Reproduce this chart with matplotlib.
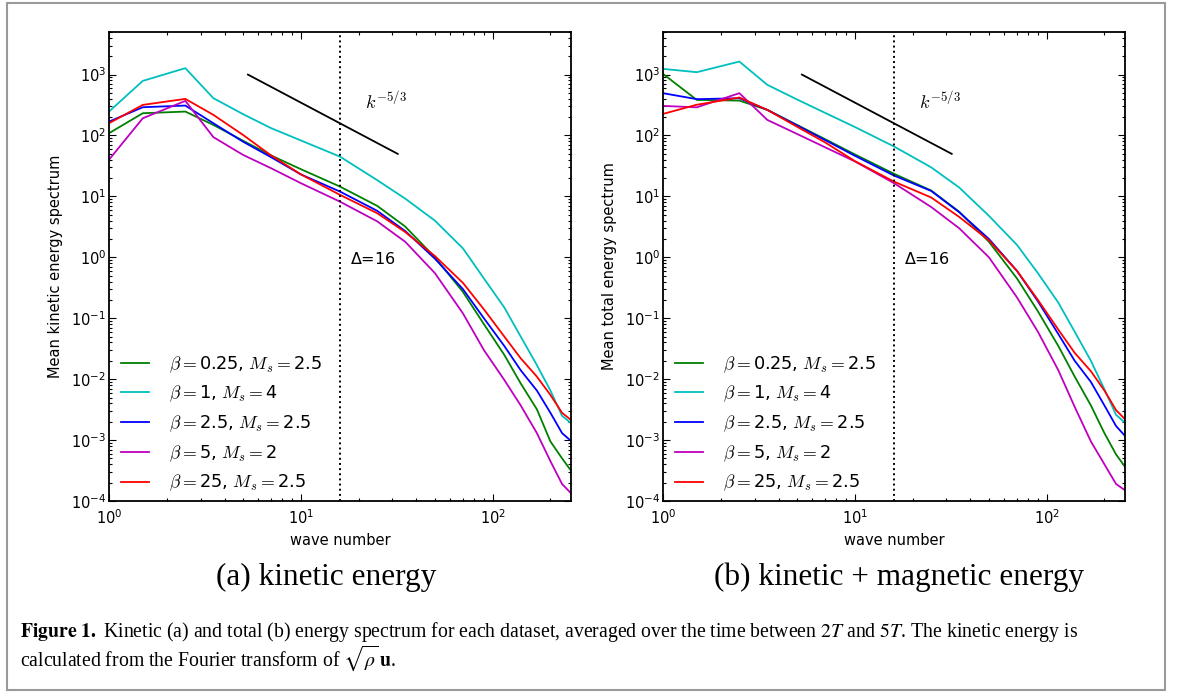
import numpy as np
import matplotlib
matplotlib.use('Agg')
import matplotlib.pyplot as plt
from matplotlib.font_manager import FontProperties
from matplotlib.patches import Rectangle

plt.rcParams['axes.unicode_minus'] = False
plt.rcParams['font.family'] = 'DejaVu Sans'

# ---------------- data ----------------
wave_k = [1, 1.5, 2.5, 3.5, 5, 7, 10, 16, 25, 35, 50, 70, 90, 115, 140, 170, 200, 230, 256]

# panel (a): kinetic energy spectrum
kin_beta025 = [109, 232, 247, 149, 82, 47, 28, 14.5, 7.0, 3.2, 1.0, 0.27, 0.08, 0.025, 0.0085, 0.0032, 0.00095, 0.0005, 0.000315]
kin_beta1 = [247, 788, 1274, 410, 224, 132, 83, 45, 18.5, 9.2, 4.0, 1.4, 0.45, 0.15, 0.05, 0.017, 0.0065, 0.0025, 0.0019]
kin_beta25 = [169, 291, 310, 159, 79, 44, 23, 12, 5.8, 2.7, 0.95, 0.3, 0.1, 0.035, 0.014, 0.0065, 0.0028, 0.0013, 0.00097]
kin_beta5 = [40, 192, 370, 94, 48, 29, 16.5, 8.2, 3.9, 1.8, 0.55, 0.12, 0.03, 0.0097, 0.0037, 0.0013, 0.00045, 0.00019, 0.000134]
kin_beta250 = [159, 318, 399, 218, 102, 47, 23, 10.6, 5.3, 2.6, 1.05, 0.38, 0.14, 0.05, 0.022, 0.011, 0.0055, 0.0028, 0.00214]

# panel (b): total (kinetic + magnetic) energy spectrum
tot_beta025 = [1027, 384, 374, 263, 149, 87, 49, 23.5, 12.5, 5.6, 1.8, 0.45, 0.13, 0.035, 0.011, 0.0037, 0.0013, 0.00058, 0.000366]
tot_beta1 = [1241, 1094, 1636, 678, 390, 235, 138, 66, 30, 14, 4.8, 1.6, 0.55, 0.18, 0.06, 0.02, 0.0068, 0.0026, 0.00193]
tot_beta25 = [495, 395, 409, 263, 146, 84, 46.5, 22, 12.3, 5.5, 2.0, 0.6, 0.19, 0.055, 0.02, 0.009, 0.0037, 0.0017, 0.00117]
tot_beta5 = [306, 290, 495, 180, 106, 64, 37.6, 16.5, 6.7, 3.0, 1.0, 0.22, 0.06, 0.014, 0.0035, 0.00095, 0.0004, 0.00019, 0.00015]
tot_beta250 = [226, 320, 420, 263, 139, 77, 38, 17.5, 9.6, 4.6, 1.9, 0.6, 0.2, 0.065, 0.027, 0.0135, 0.0065, 0.0031, 0.0022]

beta_labels = ['0.25', '1', '2.5', '5', '25']
mach_labels = ['2.5', '4', '2.5', '2', '2.5']
series_colors = [(0, 0.5, 0), (0, 0.75, 0.75), (0, 0, 1), (0.75, 0, 0.75), (1, 0, 0)]

filter_k = 16                      # Delta = 16 marker
ref_k = [5.3, 32]                  # k^{-5/3} reference segment
ref_amp = 16100

panel_data = [
    [kin_beta025, kin_beta1, kin_beta25, kin_beta5, kin_beta250],
    [tot_beta025, tot_beta1, tot_beta25, tot_beta5, tot_beta250],
]
ylabels = ['Mean kinetic energy spectrum', 'Mean total energy spectrum']
subcaptions = ['(a) kinetic energy', '(b) kinetic + magnetic energy']

# ---------------- figure ----------------
W, H = 1182, 693
fig = plt.figure(figsize=(W / 100, H / 100), dpi=100)
fig.patch.set_facecolor('white')

# outer frame
fig.add_artist(Rectangle((7 / W, 1 - 690 / H), (1165 - 7) / W, (690 - 3) / H,
                         transform=fig.transFigure, fill=False,
                         edgecolor='#9a9a9a', linewidth=1.5))

ax_left = [109, 663]
ax_w, ax_top, ax_bot = 462, 32, 501
leg_prop = FontProperties(family='DejaVu Sans', size=12.8, math_fontfamily='cm')

for p in range(2):
    ax = fig.add_axes([ax_left[p] / W, 1 - ax_bot / H, ax_w / W, (ax_bot - ax_top) / H])
    for vals, col, b, m in zip(panel_data[p], series_colors, beta_labels, mach_labels):
        ax.plot(wave_k, vals, color=col, lw=1.3,
                label=r'$\beta=$' + b + r', $M_s=$' + m)
    rk = np.array(ref_k, dtype=float)
    ax.plot(rk, ref_amp * rk ** (-5 / 3), color='black', lw=1.3)
    ax.axvline(filter_k, color='black', ls=':', lw=1.4)
    ax.set_xscale('log')
    ax.set_yscale('log')
    ax.set_xlim(1, 256)
    ax.set_ylim(1e-4, 5e3)
    ax.text(21.5, 360, r'$k^{-5/3}$', fontsize=13, math_fontfamily='cm',
            ha='left', va='center')
    ax.text(18, 0.93, r'$\Delta$=16', fontsize=11.5, ha='left', va='center',
            math_fontfamily='dejavusans')
    ax.tick_params(which='both', direction='in', top=True, right=True,
                   labelsize=10.5, width=0.8)
    ax.tick_params(which='major', length=5)
    ax.tick_params(which='minor', length=2.5)
    ax.tick_params(axis='y', pad=2)
    ax.tick_params(axis='x', pad=5.5)
    ax.yaxis.set_minor_locator(matplotlib.ticker.LogLocator(base=10, subs=np.arange(2, 10), numticks=20))
    ax.xaxis.set_minor_locator(matplotlib.ticker.LogLocator(base=10, subs=np.arange(2, 10), numticks=20))
    ax.yaxis.set_minor_formatter(matplotlib.ticker.NullFormatter())
    ax.xaxis.set_minor_formatter(matplotlib.ticker.NullFormatter())
    for s in ax.spines.values():
        s.set_linewidth(1.3)
    ax.set_ylabel(ylabels[p], fontsize=10.5)
    ax.yaxis.set_label_coords(-0.099, 0.5)
    ax.set_xlabel('wave number', fontsize=10.5)
    ax.xaxis.set_label_coords(0.5, -0.068)
    ax.legend(loc='lower left', bbox_to_anchor=(12 / ax_w, 0.016), frameon=False,
              prop=leg_prop, handlelength=1.6, handletextpad=1.1,
              labelspacing=0.52, borderpad=0, borderaxespad=0)

fig.text(326 / W, 1 - 577 / H, subcaptions[0], family='Liberation Serif',
         fontsize=22.5, ha='center', va='center')
fig.text(899 / W, 1 - 577 / H, subcaptions[1], family='Liberation Serif',
         fontsize=22.5, ha='center', va='center')

cap1 = (r'$\mathbf{Figure\ 1.}$ Kinetic (a) and total (b) energy spectrum for each dataset, '
        r'averaged over the time between $2T$ and $5T$. The kinetic energy is')
cap2 = r'calculated from the Fourier transform of $\sqrt{\rho}\,\mathbf{u}$.'
fig.text(20 / W, 1 - 632 / H, cap1, family='Liberation Serif', fontsize=14.2,
         ha='left', va='center', math_fontfamily='stix')
fig.text(20 / W, 1 - 658 / H, cap2, family='Liberation Serif', fontsize=14.2,
         ha='left', va='center', math_fontfamily='stix')

fig.savefig('out.png', dpi=100)
